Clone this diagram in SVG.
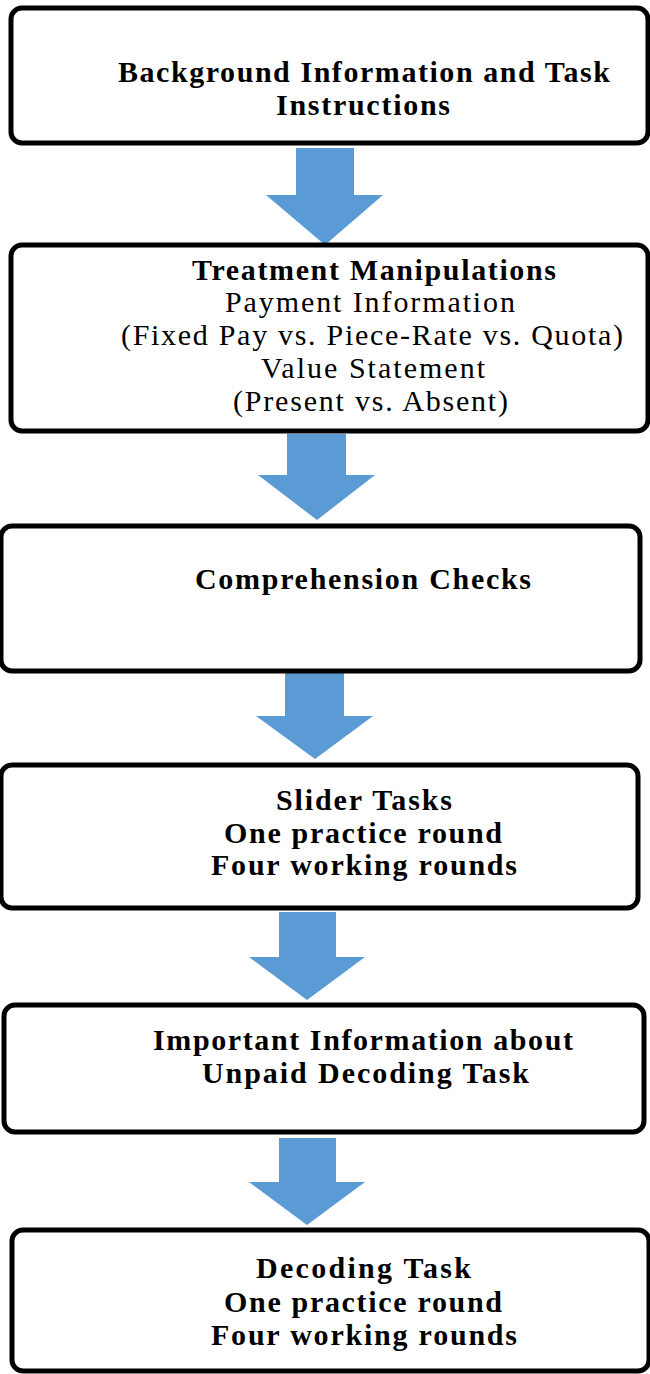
<svg xmlns="http://www.w3.org/2000/svg" width="650" height="1374" viewBox="0 0 650 1374">
<style>
.box{fill:#ffffff;stroke:#000000;stroke-width:5}
.arr{fill:#5b9bd5;stroke:none}
.t{font-family:"Liberation Serif","Times New Roman",serif;font-size:30px;fill:#000000}
.b{font-weight:bold}
</style>
<rect width="650" height="1374" fill="#ffffff"/>
<g id="connectors">
<polygon class="arr" points="296,148 354,148 354,195 383,195 325,245 266,195 296,195"/>
<polygon class="arr" points="287,434 346,434 346,475 375,475 317,520 258,475 287,475"/>
<polygon class="arr" points="285,673 344,673 344,716 373,716 315,759 256,716 285,716"/>
<polygon class="arr" points="279,912 336,912 336,957 365,957 307,1000 249,957 279,957"/>
<polygon class="arr" points="279,1138 336,1138 336,1182 365,1182 307,1225 249,1182 279,1182"/>
</g>
<g id="node1">
<rect class="box" x="11" y="8" width="637" height="135" rx="11"/>
<text class="t b" x="118" y="82" textLength="492">Background Information and Task</text>
<text class="t b" x="276" y="115" textLength="174">Instructions</text>
</g>
<g id="node2">
<rect class="box" x="11" y="245" width="637" height="186" rx="11"/>
<text class="t b" x="192" y="280" textLength="364">Treatment Manipulations</text>
<text class="t" x="225" y="312" textLength="290">Payment Information</text>
<text class="t" x="121" y="345" textLength="502">(Fixed Pay vs. Piece-Rate vs. Quota)</text>
<text class="t" x="261" y="378" textLength="224">Value Statement</text>
<text class="t" x="233" y="411" textLength="275">(Present vs. Absent)</text>
</g>
<g id="node3">
<rect class="box" x="1" y="526" width="639" height="145" rx="11"/>
<text class="t b" x="195" y="589" textLength="336">Comprehension Checks</text>
</g>
<g id="node4">
<rect class="box" x="1" y="765" width="637" height="143" rx="11"/>
<text class="t b" x="276" y="810" textLength="176">Slider Tasks</text>
<text class="t b" x="224" y="843" textLength="278">One practice round</text>
<text class="t b" x="211" y="875" textLength="306">Four working rounds</text>
</g>
<g id="node5">
<rect class="box" x="4" y="1005" width="640" height="127" rx="11"/>
<text class="t b" x="153" y="1050" textLength="420">Important Information about</text>
<text class="t b" x="202" y="1083" textLength="327">Unpaid Decoding Task</text>
</g>
<g id="node6">
<rect class="box" x="12" y="1230" width="637" height="141" rx="11"/>
<text class="t b" x="256" y="1278" textLength="215">Decoding Task</text>
<text class="t b" x="224" y="1312" textLength="278">One practice round</text>
<text class="t b" x="211" y="1345" textLength="306">Four working rounds</text>
</g>
</svg>
